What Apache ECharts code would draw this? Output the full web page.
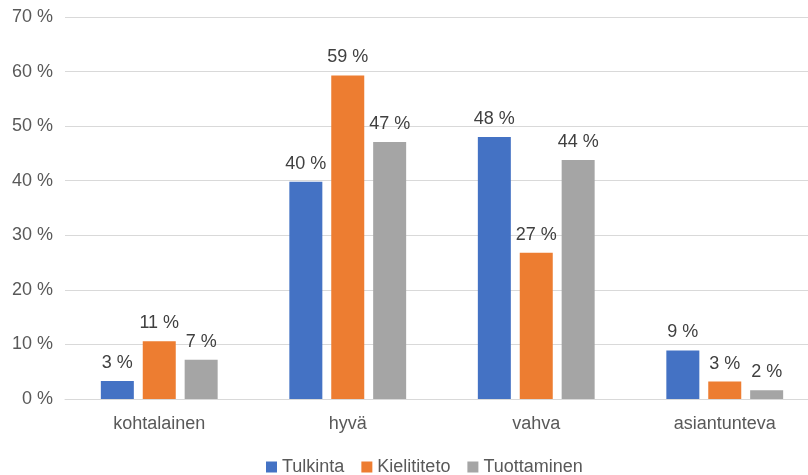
<!DOCTYPE html>
<html>
  <head>
    <meta charset="utf-8">
    <title>ECharts</title>
    <style type="text/css">
    html,body{margin:0;padding:0;background:#fff;}
    #chart{width:808px;height:475px;}
    </style>
    <script src="https://cdn.jsdelivr.net/npm/echarts@6/dist/echarts.min.js"></script>
  </head>
  <body>
    <div id="chart"></div>
    <script type="text/javascript">
      var categories = ['kohtalainen', 'hyvä', 'vahva', 'asiantunteva'];
      var tulkinta = [3.3, 39.8, 48.0, 8.9];
      var kielititeto = [10.6, 59.3, 26.8, 3.2];
      var tuottaminen = [7.2, 47.1, 43.8, 1.6];
      var yTicks = { min: 0, max: 70, step: 10 };

      var font = 'Liberation Sans, Arial, sans-serif';
      function barLabel(p) { return Math.round(p.value) + ' %'; }
      function makeSeries(name, data, color) {
        return {
          name: name,
          type: 'bar',
          data: data,
          barWidth: 33,
          barGap: '27%',
          itemStyle: { color: color },
          label: {
            show: true, position: 'top', distance: 9,
            formatter: barLabel,
            color: '#404040', fontSize: 18, fontFamily: font
          }
        };
      }

      var myChart = echarts.init(document.getElementById('chart'));
      var option = {
        animation: false,
        grid: { left: 65, top: 17, width: 754, height: 382, outerBoundsMode: 'none', containLabel: false },
        legend: {
          left: 261, top: 453,
          itemWidth: 11, itemHeight: 11, itemGap: 17,
          icon: 'rect',
          textStyle: { color: '#595959', fontSize: 18, fontFamily: font }
        },
        xAxis: {
          type: 'category',
          data: categories,
          axisLine: { lineStyle: { color: '#d9d9d9' } },
          axisTick: { show: false },
          axisLabel: { color: '#595959', fontSize: 18, fontFamily: font, margin: 16 }
        },
        yAxis: {
          type: 'value',
          min: yTicks.min, max: yTicks.max, interval: yTicks.step,
          axisLabel: { formatter: '{value} %', color: '#595959', fontSize: 18, fontFamily: font, margin: 12 },
          splitLine: { lineStyle: { color: '#d9d9d9' } }
        },
        series: [
          makeSeries('Tulkinta', tulkinta, '#4472C4'),
          makeSeries('Kielititeto', kielititeto, '#ED7D31'),
          makeSeries('Tuottaminen', tuottaminen, '#A5A5A5')
        ]
      };
      myChart.setOption(option);
    </script>
  </body>
</html>
